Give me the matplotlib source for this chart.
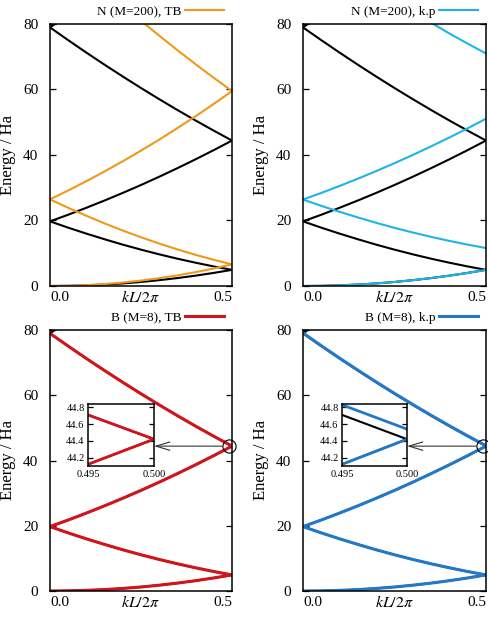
import matplotlib
matplotlib.use("Agg")
import matplotlib.pyplot as plt
from matplotlib.transforms import blended_transform_factory

plt.rcParams['font.family'] = ['Liberation Serif', 'DejaVu Serif']
plt.rcParams['mathtext.fontset'] = 'stix'

# ---------------- data ----------------
k = [0.00, 0.05, 0.10, 0.15, 0.20, 0.25, 0.30, 0.35, 0.40, 0.45, 0.50]

# reference bands (black)
ref_b1 = [0.00, 0.05, 0.20, 0.44, 0.79, 1.23, 1.78, 2.42, 3.16, 4.00, 4.93]
ref_b2 = [19.74, 17.81, 15.99, 14.27, 12.63, 11.10, 9.67, 8.34, 7.11, 5.97, 4.93]
ref_b3 = [19.74, 21.76, 23.89, 26.11, 28.43, 30.84, 33.36, 35.98, 38.69, 41.50, 44.41]
ref_b4 = [78.96, 75.06, 71.26, 67.56, 63.96, 60.45, 57.05, 53.74, 50.53, 47.43, 44.41]
ref_b5_k = [0.00, 0.05]
ref_b5 = [78.96, 82.96]

# N (M=200), TB (orange)
ntb_b1 = [0.00, 0.07, 0.26, 0.60, 1.06, 1.65, 2.38, 3.24, 4.23, 5.36, 6.61]
ntb_b2 = [26.45, 23.87, 21.43, 19.12, 16.93, 14.88, 12.96, 11.18, 9.52, 8.00, 6.61]
ntb_b3 = [26.45, 29.16, 32.01, 34.99, 38.10, 41.33, 44.70, 48.21, 51.84, 55.61, 59.51]
ntb_b4 = [105.8, 100.58, 95.49, 90.53, 85.71, 81.00, 76.45, 72.01, 67.71, 63.56, 59.51]

# N (M=200), k.p (cyan)
nkp_b1 = [0.00, 0.05, 0.20, 0.44, 0.79, 1.23, 1.78, 2.42, 3.16, 4.00, 4.93]
nkp_b2 = [26.40, 24.47, 22.65, 20.93, 19.29, 17.76, 16.33, 15.00, 13.77, 12.63, 11.59]
nkp_b3 = [26.40, 28.42, 30.55, 32.77, 35.09, 37.50, 40.02, 42.64, 45.35, 48.16, 51.07]
nkp_b4 = [105.6, 101.7, 97.9, 94.2, 90.6, 87.1, 83.7, 80.4, 77.1, 74.0, 71.0]

# B (M=8), TB (red) and k.p (blue)
btb_b1, btb_b2, btb_b3, btb_b4 = ref_b1, ref_b2, ref_b3, ref_b4
bkp_b1, bkp_b2, bkp_b3 = ref_b1, ref_b2, ref_b3
bkp_b4 = [79.08, 75.18, 71.38, 67.68, 64.08, 60.57, 57.17, 53.86, 50.65, 47.55, 44.53]

# inset (zoom near the zone boundary)
ins_k = [0.495, 0.500]
ins_ref_up = [44.71, 44.42]
ins_ref_lo = [44.12, 44.42]
ins_tb_up = [44.71, 44.42]
ins_tb_lo = [44.12, 44.42]
ins_kp_up = [44.83, 44.54]
ins_kp_lo = [44.12, 44.42]

yticks = [0, 20, 40, 60, 80]
xticks = [0.0, 0.5]
xticklabels = ['0.0', '0.5']
ins_yticks = [44.2, 44.4, 44.6, 44.8]
ins_xticks = [0.495, 0.500]
ins_xticklabels = ['0.495', '0.500']

ORANGE = '#F0981A'
CYAN = '#1EB4E6'
RED = '#D2141C'
BLUE = '#2378C8'

W, H = 488, 618
fig = plt.figure(figsize=(W / 100, H / 100), dpi=100)


def px_axes(x0, y0, x1, y1):
    return fig.add_axes([x0 / W, 1 - y1 / H, (x1 - x0) / W, (y1 - y0) / H])


def style_main(ax):
    ax.set_xlim(0, 0.5)
    ax.set_ylim(0, 80)
    ax.set_yticks(yticks)
    ax.set_xticks(xticks)
    ax.set_xticklabels(xticklabels)
    labs = ax.get_xticklabels()
    labs[0].set_ha('left')
    labs[1].set_ha('right')
    ax.tick_params(axis='y', direction='in', length=4.5, width=0.9, left=True,
                   right=True, labelsize=11, pad=8.5)
    ax.tick_params(axis='x', length=0, labelsize=11, pad=3.5)
    for s in ax.spines.values():
        s.set_linewidth(1.1)
    ax.set_ylabel('Energy / Ha', fontsize=12)
    ax.yaxis.set_label_coords(-0.185, 0.5)
    ax.set_xlabel(r'$kL/2\pi$', fontsize=11.5)
    ax.xaxis.set_label_coords(0.5, -0.015)
    ax.xaxis.label.set_va('top')


def draw_bands(ax, sets, color, lw, label):
    # black reference
    for b in (ref_b1, ref_b2, ref_b3, ref_b4):
        ax.plot(k, b, color='black', lw=1.5, solid_capstyle='butt')
    ax.plot(ref_b5_k, ref_b5, color='black', lw=1.5)
    line = None
    for b in sets:
        l, = ax.plot(k, b, color=color, lw=lw)
        if line is None:
            line = l
    ax.legend(handles=[line], labels=[label], loc='center right',
              bbox_to_anchor=(0.956, 1.046), frameon=False, markerfirst=False,
              fontsize=9.5, handlelength=2.95, handletextpad=0.3, borderpad=0,
              borderaxespad=0)


ax1 = px_axes(50, 24, 232, 286)
draw_bands(ax1, [ntb_b1, ntb_b2, ntb_b3, ntb_b4], ORANGE, 1.5, 'N (M=200), TB')
style_main(ax1)

ax2 = px_axes(303, 24, 486, 286)
draw_bands(ax2, [nkp_b1, nkp_b2, nkp_b3, nkp_b4], CYAN, 1.5, 'N (M=200), k.p')
style_main(ax2)

ax3 = px_axes(50, 330, 232, 591)
draw_bands(ax3, [btb_b1, btb_b2, btb_b3, btb_b4], RED, 2.2, 'B (M=8), TB')
style_main(ax3)

ax4 = px_axes(303, 330, 486, 591)
draw_bands(ax4, [bkp_b1, bkp_b2, bkp_b3, bkp_b4], BLUE, 2.2, 'B (M=8), k.p')
style_main(ax4)


def make_inset(main, rect_px, up, lo, color):
    ins = px_axes(*rect_px)
    ins.plot(ins_k, ins_ref_up, color='black', lw=1.5)
    ins.plot(ins_k, ins_ref_lo, color='black', lw=1.5)
    ins.plot(ins_k, up, color=color, lw=2.0)
    ins.plot(ins_k, lo, color=color, lw=2.0)
    ins.set_xlim(0.495, 0.500)
    ins.set_ylim(44.1, 44.84)
    ins.set_yticks(ins_yticks)
    ins.set_yticklabels([f'{v:.1f}' for v in ins_yticks])
    ins.set_xticks(ins_xticks)
    ins.set_xticklabels(ins_xticklabels)
    ins.tick_params(axis='y', direction='in', length=3.5, width=0.9, left=True,
                    right=True, labelsize=7.5, pad=2.5)
    ins.tick_params(axis='x', length=0, labelsize=7.5, pad=3)
    for s in ins.spines.values():
        s.set_linewidth(1.1)
    # circle marking the zoomed region and arrow to the inset
    main.plot([0.492], [44.4], marker='o', ms=9.5, mfc='none', mec='black',
              mew=0.8, clip_on=False, zorder=5)
    tr = blended_transform_factory(ins.transAxes, main.transData)
    main.annotate('', xy=(1.0, 44.4), xycoords=tr, xytext=(0.4725, 44.4),
                  textcoords='data', annotation_clip=False,
                  arrowprops=dict(arrowstyle='->,head_length=1.0,head_width=0.3',
                                  color='#333333', lw=0.8, shrinkA=0, shrinkB=0,
                                  mutation_scale=10))
    return ins


make_inset(ax3, (88, 404, 154, 466), ins_tb_up, ins_tb_lo, RED)
make_inset(ax4, (342, 404, 407, 466), ins_kp_up, ins_kp_lo, BLUE)

fig.savefig('out.png', dpi=100)
